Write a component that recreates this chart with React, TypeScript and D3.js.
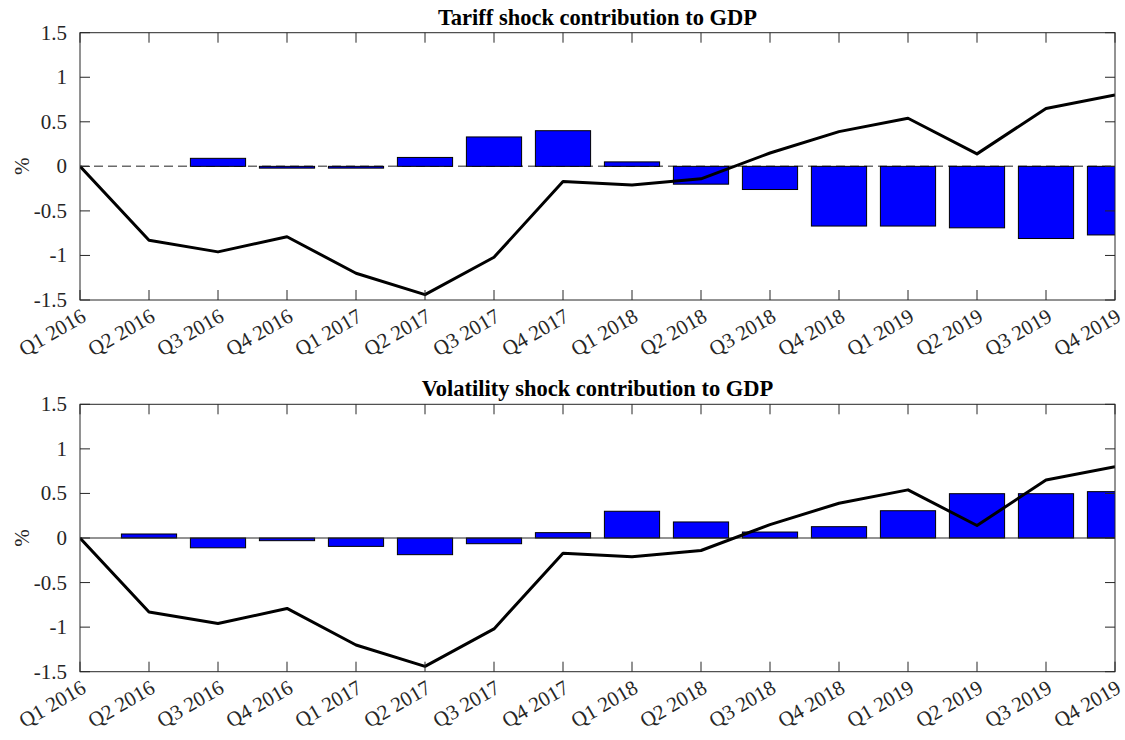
import React from "react";
import * as d3 from "d3";

const quarters = [
  "Q1 2016", "Q2 2016", "Q3 2016", "Q4 2016",
  "Q1 2017", "Q2 2017", "Q3 2017", "Q4 2017",
  "Q1 2018", "Q2 2018", "Q3 2018", "Q4 2018",
  "Q1 2019", "Q2 2019", "Q3 2019", "Q4 2019",
];

const gdpLine = [0, -0.83, -0.96, -0.79, -1.2, -1.44, -1.02, -0.17, -0.21, -0.14, 0.15, 0.39, 0.54, 0.14, 0.65, 0.8];

const tariffBars = [0, 0, 0.09, -0.02, -0.02, 0.1, 0.33, 0.4, 0.05, -0.2, -0.26, -0.67, -0.67, -0.69, -0.81, -0.77];

const volatilityBars = [0, 0.045, -0.11, -0.03, -0.094, -0.187, -0.064, 0.06, 0.3, 0.18, 0.067, 0.127, 0.306, 0.497, 0.497, 0.52];

const yTicks = [-1.5, -1, -0.5, 0, 0.5, 1, 1.5];

const FONT = "'Liberation Serif', 'Times New Roman', serif";
const AXIS = "#262626";

type PanelProps = {
  id: string;
  title: string;
  bars: number[];
  line: number[];
  top: number;
  bottom: number;
  dashedZero: boolean;
};

const LEFT = 80;
const RIGHT = 1115;

function Panel({ id, title, bars, line, top, bottom, dashedZero }: PanelProps) {
  const x = d3.scaleLinear().domain([1, quarters.length]).range([LEFT, RIGHT]);
  const y = d3.scaleLinear().domain([-1.5, 1.5]).range([bottom, top]);
  const step = x(2) - x(1);
  const barW = step * 0.8;
  const tickLen = 10;
  const lineGen = d3
    .line<number>()
    .x((_, i) => x(i + 1))
    .y((d) => y(d));

  return (
    <g>
      <defs>
        <clipPath id={id}>
          <rect x={LEFT} y={top} width={RIGHT - LEFT} height={bottom - top} />
        </clipPath>
      </defs>
      <g clipPath={`url(#${id})`}>
        {dashedZero && (
          <line
            x1={LEFT}
            x2={RIGHT}
            y1={y(0)}
            y2={y(0)}
            stroke="#6b6b6b"
            strokeWidth={1.5}
            strokeDasharray="9,5"
          />
        )}
        {bars.map((v, i) => {
          const y0 = y(Math.max(0, v));
          const h = Math.abs(y(v) - y(0));
          if (v === 0) return null;
          return (
            <rect
              key={i}
              x={x(i + 1) - barW / 2}
              y={y0}
              width={barW}
              height={h}
              fill="#0000ff"
              stroke="#000"
              strokeWidth={1}
            />
          );
        })}
        {!dashedZero && (
          <line x1={LEFT} x2={RIGHT} y1={y(0)} y2={y(0)} stroke={AXIS} strokeWidth={1} />
        )}
        <path d={lineGen(line) || ""} fill="none" stroke="#000" strokeWidth={3} strokeLinejoin="round" />
      </g>
      <rect x={LEFT} y={top} width={RIGHT - LEFT} height={bottom - top} fill="none" stroke={AXIS} strokeWidth={1} />
      {quarters.map((q, i) => (
        <g key={q}>
          <line x1={x(i + 1)} x2={x(i + 1)} y1={bottom} y2={bottom - tickLen} stroke={AXIS} strokeWidth={1} />
          <line x1={x(i + 1)} x2={x(i + 1)} y1={top} y2={top + tickLen} stroke={AXIS} strokeWidth={1} />
          <text
            transform={`translate(${x(i + 1) + 5},${bottom + 16}) rotate(-30)`}
            textAnchor="end"
            dominantBaseline="middle"
            fontFamily={FONT}
            fontSize={21}
            fill={AXIS}
          >
            {q}
          </text>
        </g>
      ))}
      {yTicks.map((t) => (
        <g key={t}>
          <line x1={LEFT} x2={LEFT + tickLen} y1={y(t)} y2={y(t)} stroke={AXIS} strokeWidth={1} />
          <line x1={RIGHT} x2={RIGHT - tickLen} y1={y(t)} y2={y(t)} stroke={AXIS} strokeWidth={1} />
          <text
            x={LEFT - 13}
            y={y(t)}
            textAnchor="end"
            dominantBaseline="central"
            fontFamily={FONT}
            fontSize={21}
            fill={AXIS}
          >
            {String(t)}
          </text>
        </g>
      ))}
      <text
        transform={`translate(22,${(top + bottom) / 2}) rotate(-90)`}
        textAnchor="middle"
        dominantBaseline="central"
        fontFamily={FONT}
        fontSize={21}
        fill={AXIS}
      >
        %
      </text>
      <text
        x={(LEFT + RIGHT) / 2}
        y={top - 8}
        textAnchor="middle"
        fontFamily={FONT}
        fontSize={22.5}
        fontWeight="bold"
        fill="#000"
      >
        {title}
      </text>
    </g>
  );
}

export default function App() {
  return (
    <svg
      width={1125}
      height={740}
      style={{ position: "absolute", left: 0, top: 0, background: "#fff" }}
    >
      <rect width={1125} height={740} fill="#fff" />
      <Panel
        id="clipTop"
        title="Tariff shock contribution to GDP"
        bars={tariffBars}
        line={gdpLine}
        top={32.7}
        bottom={300}
        dashedZero={true}
      />
      <Panel
        id="clipBottom"
        title="Volatility shock contribution to GDP"
        bars={volatilityBars}
        line={gdpLine}
        top={404.3}
        bottom={671.7}
        dashedZero={false}
      />
    </svg>
  );
}
